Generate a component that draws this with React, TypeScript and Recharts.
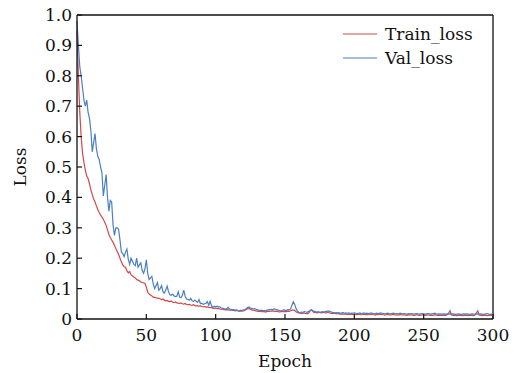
import React from 'react';
import { LineChart, Line, XAxis, YAxis, ReferenceLine } from 'recharts';

// loss per epoch (index = epoch)
const trainLoss = [
  0.95, 0.80, 0.68, 0.60, 0.545, 0.515, 0.49, 0.47, 0.462, 0.445,
  0.425, 0.41, 0.395, 0.385, 0.372, 0.36, 0.35, 0.342, 0.335, 0.328,
  0.318, 0.308, 0.293, 0.278, 0.268, 0.26, 0.252, 0.243, 0.232, 0.222,
  0.212, 0.2, 0.188, 0.178, 0.172, 0.17, 0.158, 0.152, 0.156, 0.145,
  0.142, 0.138, 0.135, 0.13, 0.128, 0.126, 0.122, 0.12, 0.119, 0.117,
  0.105, 0.088, 0.082, 0.079, 0.076, 0.072, 0.071, 0.07, 0.068, 0.069,
  0.066, 0.064, 0.066, 0.062, 0.06, 0.061, 0.058, 0.057, 0.059, 0.055,
  0.054, 0.056, 0.053, 0.052, 0.051, 0.053, 0.05, 0.049, 0.051, 0.048,
  0.047, 0.048, 0.046, 0.045, 0.047, 0.044, 0.043, 0.044, 0.042, 0.043,
  0.041, 0.04, 0.041, 0.039, 0.04, 0.038, 0.037, 0.038, 0.036, 0.035,
  0.036, 0.034, 0.035, 0.033, 0.032, 0.033, 0.031, 0.03, 0.031, 0.03,
  0.029, 0.03, 0.028, 0.029, 0.027, 0.028, 0.027, 0.026, 0.027, 0.026,
  0.027, 0.028, 0.031, 0.034, 0.035, 0.032, 0.03, 0.029, 0.028, 0.027,
  0.026, 0.025, 0.026, 0.024, 0.025, 0.024, 0.023, 0.025, 0.026, 0.025,
  0.026, 0.027, 0.026, 0.025, 0.026, 0.024, 0.023, 0.024, 0.025, 0.024,
  0.025, 0.024, 0.026, 0.025, 0.027, 0.029, 0.03, 0.028, 0.024, 0.021,
  0.02, 0.019, 0.018, 0.02, 0.019, 0.018, 0.017, 0.019, 0.026, 0.031,
  0.025, 0.021, 0.022, 0.02, 0.021, 0.022, 0.02, 0.021, 0.022, 0.02,
  0.021, 0.023, 0.02, 0.019, 0.018, 0.019, 0.018, 0.017, 0.018, 0.017,
  0.016, 0.017, 0.016, 0.017, 0.016, 0.015, 0.016, 0.015, 0.016, 0.015,
  0.016, 0.015, 0.014, 0.016, 0.015, 0.014, 0.015, 0.016, 0.014, 0.015,
  0.014, 0.015, 0.016, 0.015, 0.014, 0.013, 0.015, 0.014, 0.015, 0.016,
  0.015, 0.014, 0.013, 0.014, 0.015, 0.014, 0.013, 0.014, 0.015, 0.014,
  0.013, 0.014, 0.013, 0.015, 0.014, 0.013, 0.014, 0.013, 0.012, 0.014,
  0.013, 0.014, 0.013, 0.012, 0.013, 0.014, 0.013, 0.012, 0.013, 0.014,
  0.013, 0.012, 0.013, 0.014, 0.013, 0.012, 0.013, 0.012, 0.014, 0.013,
  0.012, 0.013, 0.012, 0.013, 0.012, 0.013, 0.012, 0.014, 0.019, 0.027,
  0.014, 0.012, 0.013, 0.012, 0.011, 0.012, 0.013, 0.012, 0.011, 0.012,
  0.013, 0.012, 0.011, 0.012, 0.013, 0.012, 0.011, 0.013, 0.02, 0.027,
  0.013, 0.012, 0.011, 0.012, 0.013, 0.012, 0.011, 0.012, 0.013, 0.012, 0.012,
];

const valLoss = [
  0.98, 0.90, 0.83, 0.80, 0.76, 0.72, 0.70, 0.72, 0.68, 0.66,
  0.62, 0.55, 0.58, 0.61, 0.56, 0.535, 0.525, 0.50, 0.48, 0.405,
  0.44, 0.475, 0.40, 0.355, 0.39, 0.385, 0.31, 0.275, 0.30, 0.30,
  0.295, 0.26, 0.22, 0.215, 0.205, 0.22, 0.23, 0.195, 0.18, 0.20,
  0.19, 0.18, 0.175, 0.20, 0.17, 0.178, 0.185, 0.16, 0.15, 0.165,
  0.195, 0.15, 0.13, 0.135, 0.14, 0.115, 0.10, 0.11, 0.12, 0.095,
  0.10, 0.11, 0.09, 0.085, 0.095, 0.108, 0.09, 0.08, 0.078, 0.082,
  0.076, 0.074, 0.075, 0.09, 0.072, 0.07, 0.078, 0.095, 0.075, 0.066,
  0.064, 0.062, 0.068, 0.06, 0.058, 0.062, 0.058, 0.055, 0.064, 0.05,
  0.052, 0.048, 0.05, 0.052, 0.057, 0.045, 0.058, 0.044, 0.038, 0.042,
  0.04, 0.042, 0.04, 0.04, 0.036, 0.035, 0.034, 0.032, 0.034, 0.038,
  0.033, 0.032, 0.03, 0.031, 0.029, 0.03, 0.028, 0.027, 0.029, 0.028,
  0.03, 0.031, 0.034, 0.038, 0.04, 0.036, 0.035, 0.033, 0.034, 0.032,
  0.031, 0.029, 0.028, 0.029, 0.027, 0.028, 0.027, 0.029, 0.03, 0.031,
  0.032, 0.031, 0.033, 0.032, 0.031, 0.029, 0.028, 0.027, 0.028, 0.03,
  0.029, 0.028, 0.031, 0.03, 0.033, 0.045, 0.057, 0.048, 0.034, 0.026,
  0.022, 0.021, 0.023, 0.022, 0.024, 0.023, 0.022, 0.025, 0.027, 0.03,
  0.028, 0.025, 0.024, 0.023, 0.024, 0.022, 0.023, 0.024, 0.023, 0.024,
  0.025, 0.026, 0.026, 0.024, 0.022, 0.021, 0.02, 0.021, 0.02, 0.021,
  0.019, 0.02, 0.021, 0.019, 0.02, 0.019, 0.02, 0.018, 0.019, 0.019,
  0.02, 0.019, 0.018, 0.019, 0.02, 0.018, 0.019, 0.02, 0.018, 0.019,
  0.018, 0.019, 0.02, 0.019, 0.018, 0.017, 0.019, 0.018, 0.019, 0.02,
  0.019, 0.018, 0.017, 0.018, 0.019, 0.018, 0.017, 0.018, 0.019, 0.018,
  0.017, 0.018, 0.017, 0.019, 0.018, 0.017, 0.018, 0.017, 0.016, 0.018,
  0.017, 0.018, 0.017, 0.016, 0.017, 0.018, 0.017, 0.016, 0.017, 0.018,
  0.017, 0.016, 0.017, 0.018, 0.017, 0.016, 0.017, 0.018, 0.019, 0.017,
  0.016, 0.017, 0.016, 0.017, 0.016, 0.017, 0.016, 0.017, 0.016, 0.017,
  0.016, 0.017, 0.016, 0.015, 0.016, 0.017, 0.016, 0.015, 0.016, 0.017,
  0.016, 0.017, 0.016, 0.015, 0.016, 0.017, 0.016, 0.015, 0.016, 0.017,
  0.016, 0.017, 0.016, 0.015, 0.016, 0.017, 0.018, 0.016, 0.015, 0.016, 0.016,
];

const xTicks = [0, 50, 100, 150, 200, 250, 300];
const yTicks = [0, 0.1, 0.2, 0.3, 0.4, 0.5, 0.6, 0.7, 0.8, 0.9, 1.0];

const RED = '#d0484a';
const BLUE = '#4a7fc4';
const FONT = '"DejaVu Serif", serif';

const data = trainLoss.map((t, i) => ({ epoch: i, train: t, val: valLoss[i] }));

const fmtY = (v: number) => (v === 0 ? '0' : v.toFixed(1));

// legend drawn as an overlay so it doesn't eat into the plot area
const LegendBox = () => (
  <svg width={160} height={50} style={{ position: 'absolute', left: 340, top: 20 }}>
    <line x1={3} x2={37} y1={14} y2={14} stroke={RED} strokeWidth={1.2} />
    <text x={45} y={14} dy="0.36em" fontFamily={FONT} fontSize={17} fill="#111">Train_loss</text>
    <line x1={3} x2={37} y1={38} y2={38} stroke={BLUE} strokeWidth={1.2} />
    <text x={45} y={38} dy="0.36em" fontFamily={FONT} fontSize={17} fill="#111">Val_loss</text>
  </svg>
);

export default function App() {
  const tickStyle = { fontFamily: FONT, fontSize: 17, fill: '#111' };
  const axisLine = { stroke: '#111', strokeWidth: 1.3 };
  return (
    <div style={{ width: 516, height: 373, position: 'relative' }}>
      <style>{'body{margin:0}'}</style>
      <LineChart width={516} height={373} data={data} margin={{ top: 15, right: 23, bottom: 0, left: 17 }}>
        <XAxis
          dataKey="epoch"
          type="number"
          domain={[0, 300]}
          ticks={xTicks}
          height={54}
          tickSize={-5}
          tickMargin={15}
          tick={tickStyle}
          axisLine={axisLine}
          tickLine={{ stroke: '#111', strokeWidth: 1.2 }}
          label={{ value: 'Epoch', position: 'insideBottom', offset: 6, style: { fontFamily: FONT, fontSize: 17, fill: '#111' } }}
        />
        <YAxis
          type="number"
          domain={[0, 1]}
          ticks={yTicks}
          width={60}
          tickSize={-5}
          tickMargin={10}
          tickFormatter={fmtY}
          tick={tickStyle}
          axisLine={axisLine}
          tickLine={{ stroke: '#111', strokeWidth: 1.2 }}
          label={{ value: 'Loss', angle: -90, position: 'insideLeft', offset: 3, style: { fontFamily: FONT, fontSize: 17, fill: '#111', textAnchor: 'middle' } }}
        />
        <ReferenceLine y={1} stroke="#111" strokeWidth={1.3} />
        <ReferenceLine x={300} stroke="#111" strokeWidth={1.3} />
        <Line type="linear" dataKey="train" stroke={RED} strokeWidth={1.2} dot={false} isAnimationActive={false} />
        <Line type="linear" dataKey="val" stroke={BLUE} strokeWidth={1.2} dot={false} isAnimationActive={false} />
      </LineChart>
      <LegendBox />
    </div>
  );
}
